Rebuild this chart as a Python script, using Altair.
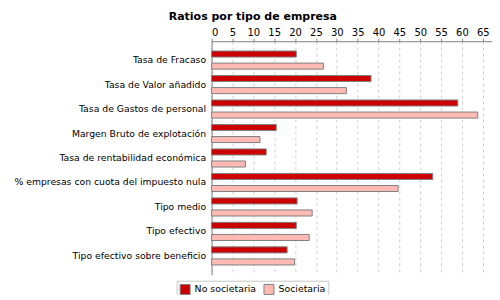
import altair as alt
import pandas as pd

categories = [
    "Tasa de Fracaso",
    "Tasa de Valor añadido",
    "Tasa de Gastos de personal",
    "Margen Bruto de explotación",
    "Tasa de rentabilidad económica",
    "% empresas con cuota del impuesto nula",
    "Tipo medio",
    "Tipo efectivo",
    "Tipo efectivo sobre beneficio",
]
no_societaria = [20.3, 38.2, 59.0, 15.5, 13.1, 53.0, 20.5, 20.3, 18.1]
societaria = [26.8, 32.3, 63.8, 11.6, 8.1, 44.7, 24.1, 23.4, 19.9]
series = ["No societaria", "Societaria"]
colors = ["#CC0000", "#FFBBB3"]
x_ticks = list(range(0, 70, 5))

rows = []
for c, a, b in zip(categories, no_societaria, societaria):
    rows.append({"cat": c, "serie": series[0], "valor": a})
    rows.append({"cat": c, "serie": series[1], "valor": b})
df = pd.DataFrame(rows)

FONT = "DejaVu Sans"

chart = alt.Chart(df).mark_bar(stroke="#808080", strokeWidth=1).encode(
    x=alt.X(
        "valor:Q",
        scale=alt.Scale(domain=[0, 67.2], nice=False, zero=True),
        axis=alt.Axis(
            orient="top", values=x_ticks, title=None, grid=True,
            gridDash=[3, 3], gridColor="#d0d0d0", domainColor="#808080",
            tickColor="#808080", tickSize=3, labelFont=FONT, labelFontSize=10,
            labelColor="#000000", labelPadding=1, format="d",
        ),
    ),
    y=alt.Y(
        "cat:N", sort=categories,
        scale=alt.Scale(paddingInner=0.26, paddingOuter=0.4),
        axis=alt.Axis(
            title=None, ticks=False, labelPadding=6, labelFont=FONT,
            labelFontSize=9.3, labelColor="#000000", domainColor="#808080",
            labelLimit=300,
        ),
    ),
    yOffset=alt.YOffset(
        "serie:N", sort=series,
        scale=alt.Scale(paddingInner=0.5, paddingOuter=0),
    ),
    color=alt.Color(
        "serie:N", sort=series,
        scale=alt.Scale(domain=series, range=colors),
        legend=alt.Legend(
            title=None, orient="none", legendX=-35, legendY=240,
            direction="horizontal", strokeColor="#c8c8c8", padding=3,
            symbolType="square", symbolSize=100, symbolStrokeColor="#808080",
            symbolStrokeWidth=1, symbolOpacity=1, labelFont=FONT, labelFontSize=9.4,
            labelColor="#000000", columnPadding=5, labelOffset=4,
        ),
    ),
).properties(
    width=281,
    height=234,
    title=alt.TitleParams(
        "Ratios por tipo de empresa", font=FONT, fontSize=11, fontWeight="bold",
        anchor="middle", frame="bounds", color="#000000", offset=4, dy=-1,
    ),
    autosize=alt.AutoSizeParams(type="none"),
    padding={"left": 204, "top": 33, "right": 0, "bottom": 20},
).configure_view(stroke=None)

chart.save("out.html", embed_options={"renderer": "svg", "actions": False})
